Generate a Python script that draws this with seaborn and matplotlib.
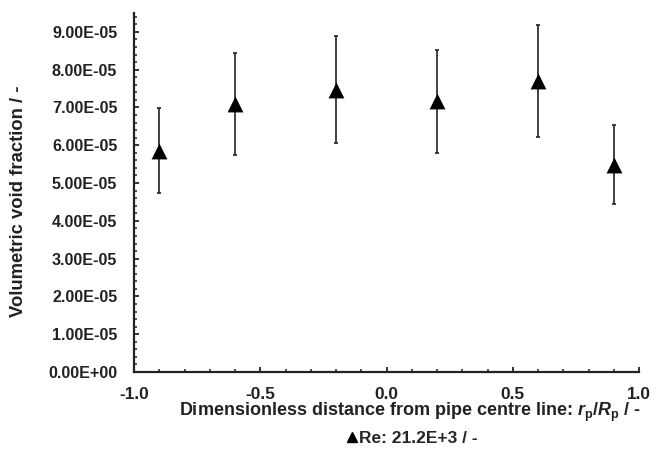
import matplotlib
matplotlib.use("Agg")
import matplotlib.pyplot as plt
from matplotlib.ticker import MultipleLocator, FuncFormatter
from matplotlib.lines import Line2D
import seaborn as sns
import pandas as pd

# Data
radial_position = [-0.9, -0.6, -0.2, 0.2, 0.6, 0.9]
void_fraction = [5.86e-05, 7.10e-05, 7.47e-05, 7.16e-05, 7.71e-05, 5.49e-05]
void_error = [1.12e-05, 1.35e-05, 1.42e-05, 1.37e-05, 1.48e-05, 1.05e-05]
series_label = "Re: 21.2E+3 / -"

df = pd.DataFrame({"r": radial_position, "v": void_fraction, "e": void_error})

sns.set_theme(style="ticks")
plt.rcParams["font.family"] = ["Liberation Sans", "DejaVu Sans"]
plt.rcParams["font.weight"] = "bold"
plt.rcParams["mathtext.fontset"] = "custom"
plt.rcParams["mathtext.rm"] = "Liberation Sans:bold"
plt.rcParams["mathtext.bf"] = "Liberation Sans:bold"
plt.rcParams["mathtext.it"] = "Liberation Sans:bold:italic"
plt.rcParams["mathtext.bfit"] = "Liberation Sans:bold:italic"

fig = plt.figure(figsize=(6.68, 4.5), dpi=100)
ax = fig.add_axes([134 / 668, 1 - 372 / 450, 505 / 668, 359 / 450])

ax.errorbar(df["r"], df["v"], yerr=df["e"], fmt="none", ecolor="#2a2a2a",
            elinewidth=1.25, capsize=1.7, capthick=1.25, zorder=2)
sns.scatterplot(data=df, x="r", y="v", marker="^", s=130, color="black",
                edgecolor="black", linewidth=0, ax=ax, zorder=3, legend=False)

ax.set_xlim(-1.0, 1.0)
ax.set_ylim(0, 9.5e-05)
ax.xaxis.set_major_locator(MultipleLocator(0.5))
ax.xaxis.set_minor_locator(MultipleLocator(0.1))
ax.yaxis.set_major_locator(MultipleLocator(1e-05))
ax.yaxis.set_minor_locator(MultipleLocator(2e-06))
ax.yaxis.set_major_formatter(FuncFormatter(lambda v, p: f"{v:.2E}"))
ax.xaxis.set_major_formatter(FuncFormatter(lambda v, p: f"{v:.1f}"))

for s in ["top", "right"]:
    ax.spines[s].set_visible(False)
for s in ["left", "bottom"]:
    ax.spines[s].set_linewidth(1.6)
    ax.spines[s].set_color("#222222")

ax.tick_params(axis="both", which="major", direction="in", length=3.5, width=1.3,
               colors="#222222", labelcolor="#222222")
ax.tick_params(axis="both", which="minor", direction="in", length=2.5, width=1.1,
               colors="#222222")
ax.tick_params(axis="y", which="major", labelsize=11.6, pad=12)
ax.tick_params(axis="x", which="major", labelsize=12.4, pad=10.5)
for lab in ax.get_xticklabels() + ax.get_yticklabels():
    lab.set_fontweight("bold")

ax.set_xlabel(r"Dimensionless distance from pipe centre line: $\mathit{r}_\mathrm{p}$/$\mathit{R}_\mathrm{p}$ / -",
              fontsize=13, fontweight="bold", color="#222222", va="center")
ax.xaxis.set_label_coords((410 - 134) / 505, (372 - 412) / 359)
ax.set_ylabel("Volumetric void fraction / -", fontsize=13.3, fontweight="bold",
              color="#222222", va="center")
ax.yaxis.set_label_coords((19 - 134) / 505, (372 - 201) / 359)

handle = Line2D([], [], marker="^", color="black", linestyle="none", markersize=7)
fig.legend([handle], [series_label], loc="center", bbox_to_anchor=(412 / 668, 1 - 438 / 450),
           frameon=False, prop={"size": 12.5, "weight": "bold"}, handletextpad=0.05,
           handlelength=0.7, borderpad=0.1)

fig.savefig("out.png", dpi=100)
